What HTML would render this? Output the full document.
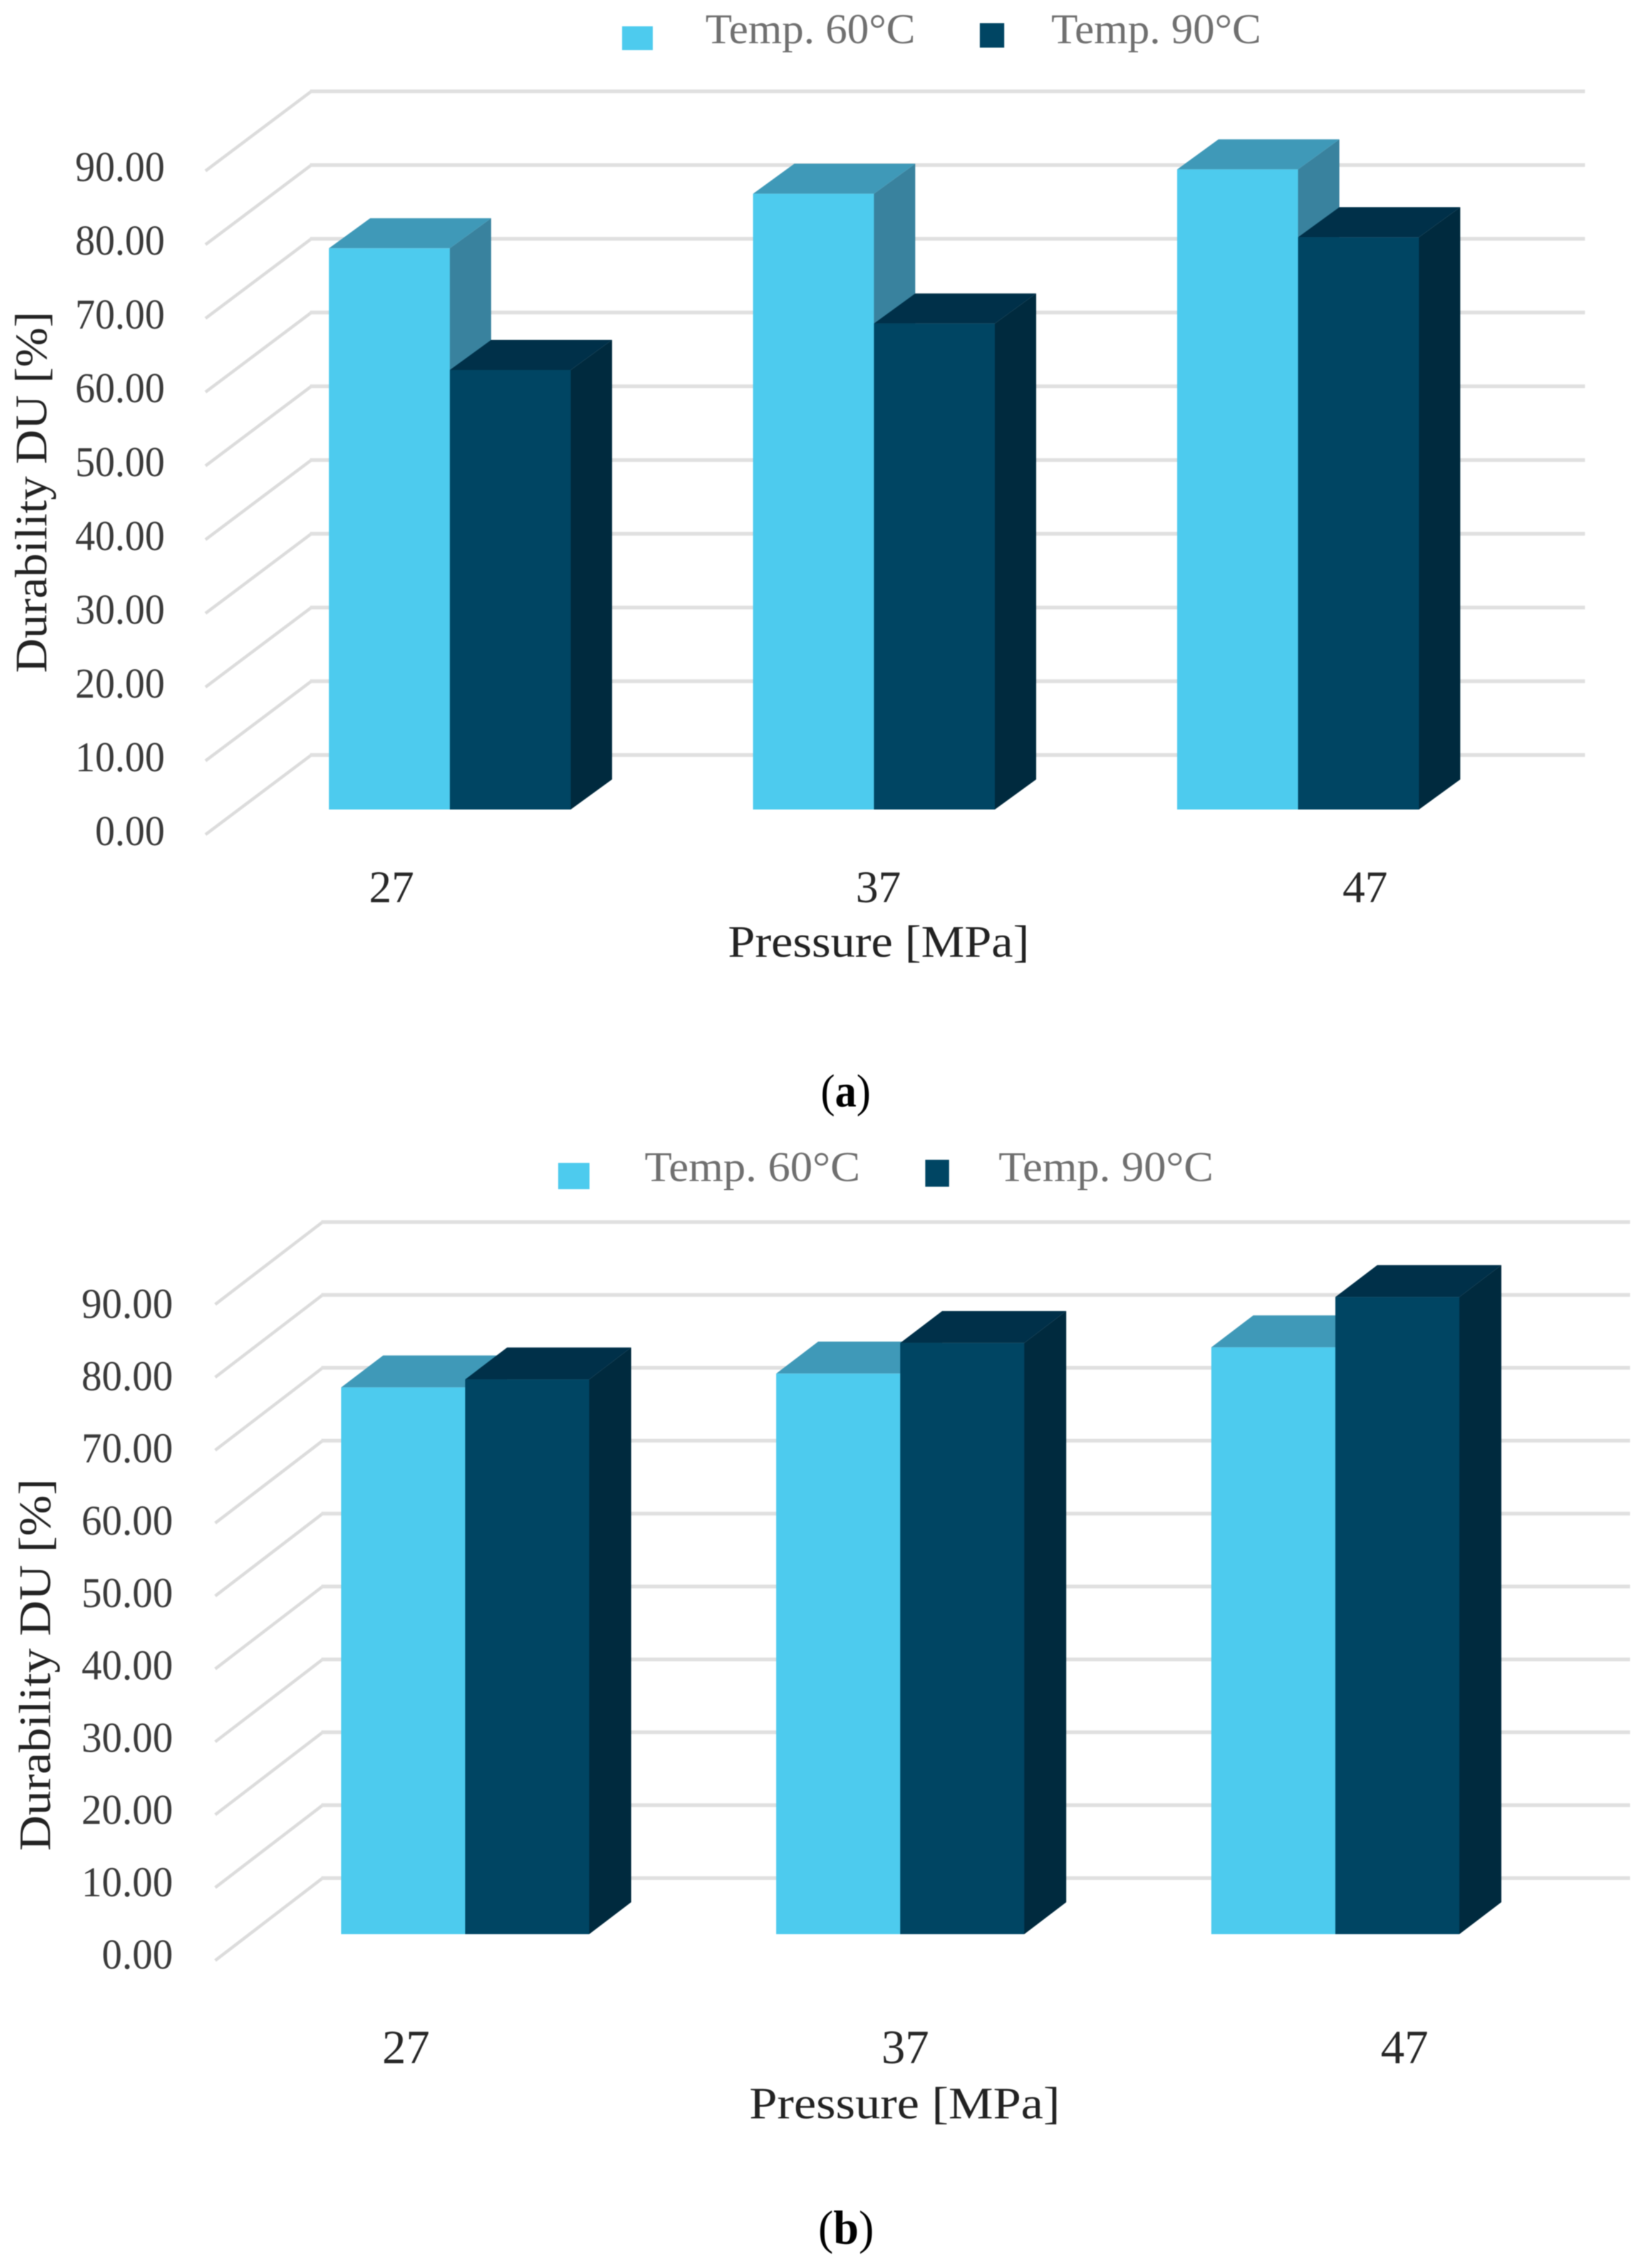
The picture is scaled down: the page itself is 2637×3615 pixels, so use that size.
<!DOCTYPE html>
<html lang="en">
<head>
<meta charset="utf-8">
<title>Durability DU vs Pressure</title>
<style>
  html, body { margin: 0; padding: 0; background: #ffffff; }
  body { width: 2637px; height: 3615px; overflow: hidden; }
  svg { display: block; filter: blur(0.9px); }
  text { font-family: "Liberation Serif", serif; }
  .legend-text { font-size: 68px; fill: #6f6f6f; }
  .axis-title { font-size: 72px; fill: #222222; }
  .cat-label { fill: #262626; text-anchor: middle; }
  .caption { fill: #000000; }
</style>
</head>
<body>
<svg id="figure" xmlns="http://www.w3.org/2000/svg" width="2637" height="3615" viewBox="0 0 2637 3615">
  <rect x="0" y="0" width="2637" height="3615" fill="#ffffff"/>

  <!-- Panel (a) static parts -->
  <g id="panel-a">
    <g id="panel-a-grid"></g>
    <g id="panel-a-bars"></g>
    <g id="panel-a-ticks"></g>
    <g id="panel-a-cats"></g>
    <rect x="993" y="42" width="49" height="38" fill="#4dcbee"/>
    <text class="legend-text" x="1126" y="69" textLength="335" lengthAdjust="spacingAndGlyphs">Temp. 60°C</text>
    <rect x="1564" y="37" width="39" height="39" fill="#004563"/>
    <text class="legend-text" x="1678" y="69" textLength="335" lengthAdjust="spacingAndGlyphs">Temp. 90°C</text>
    <text class="axis-title" transform="translate(74,1074) rotate(-90)" textLength="577" lengthAdjust="spacingAndGlyphs">Durability DU [%]</text>
    <text class="axis-title" x="1162" y="1527" textLength="481" lengthAdjust="spacingAndGlyphs">Pressure [MPa]</text>
    <text class="caption" x="1310" y="1766" font-size="74" textLength="80" lengthAdjust="spacingAndGlyphs">(<tspan font-weight="bold">a</tspan>)</text>
  </g>

  <!-- Panel (b) static parts -->
  <g id="panel-b">
    <g id="panel-b-grid"></g>
    <g id="panel-b-bars"></g>
    <g id="panel-b-ticks"></g>
    <g id="panel-b-cats"></g>
    <rect x="891" y="1856" width="50" height="42" fill="#4dcbee"/>
    <text class="legend-text" x="1029" y="1885" textLength="344" lengthAdjust="spacingAndGlyphs">Temp. 60°C</text>
    <rect x="1477" y="1851" width="38" height="43" fill="#004563"/>
    <text class="legend-text" x="1594" y="1885" textLength="343" lengthAdjust="spacingAndGlyphs">Temp. 90°C</text>
    <text class="axis-title" transform="translate(80,2954) rotate(-90)" textLength="594" lengthAdjust="spacingAndGlyphs">Durability DU [%]</text>
    <text class="axis-title" x="1196" y="3381" textLength="496" lengthAdjust="spacingAndGlyphs">Pressure [MPa]</text>
    <text class="caption" x="1306" y="3581" font-size="76" textLength="89" lengthAdjust="spacingAndGlyphs">(<tspan font-weight="bold">b</tspan>)</text>
  </g>
</svg>

<script>
// Chart data
const pressures = ["27", "37", "47"];
const yTickValues = [0, 10, 20, 30, 40, 50, 60, 70, 80, 90];
const yTickLabels = ["0.00", "10.00", "20.00", "30.00", "40.00", "50.00", "60.00", "70.00", "80.00", "90.00"];
const panelATemp60 = [76.1, 83.5, 86.8];
const panelATemp90 = [59.6, 65.9, 77.6];
const panelBTemp60 = [75.0, 76.9, 80.5];
const panelBTemp90 = [76.1, 81.1, 87.4];

const SVG_NS = "http://www.w3.org/2000/svg";

function make(parent, tag, attrs) {
  const node = document.createElementNS(SVG_NS, tag);
  for (const key in attrs) node.setAttribute(key, attrs[key]);
  parent.appendChild(node);
  return node;
}

function drawBar(group, x, topY, baseY, width, dx, dy, colors, nameStem) {
  let el;
  el = make(group, "polygon", {
    points: [[x + width, topY], [x + width + dx, topY - dy], [x + width + dx, baseY - dy], [x + width, baseY]].join(" "),
    fill: colors.side
  });
  
  

  el = make(group, "polygon", {
    points: [[x, topY], [x + dx, topY - dy], [x + width + dx, topY - dy], [x + width, topY]].join(" "),
    fill: colors.top
  });
  
  

  el = make(group, "rect", {
    x: x, y: topY, width: width, height: baseY - topY,
    fill: colors.front
  });
  
  
}

function drawPanel(id, series60, series90, layout) {
  const gridGroup = document.getElementById(id + "-grid");
  const barsGroup = document.getElementById(id + "-bars");
  const ticksGroup = document.getElementById(id + "-ticks");
  const catsGroup = document.getElementById(id + "-cats");

  // axis functions
  const gridFrontY = v => layout.gridFrontZero - v * layout.gridUnit;
  const barY = v => layout.barBase - v * layout.gridUnit;
  const tickY = v => layout.tickZero - v * layout.tickUnit;
  const bandX = i => layout.bandStart + i * layout.bandStep;
  const catX = i => layout.catStart + i * layout.catStep;

  yTickValues.forEach((v, i) => {
    const fy = gridFrontY(v);
    const by = fy - layout.gridDy;
    let el;
    el = make(gridGroup, "polyline", {
      points: [[layout.gridFrontX, fy], [layout.gridBackX, by]].join(" "),
      fill: "none", stroke: "#dcdcdc", "stroke-width": 5
    });
    
    

    el = make(gridGroup, "line", {
      x1: layout.gridBackX - 2, y1: by, x2: layout.gridRight, y2: by,
      stroke: "#e0e0e0", "stroke-width": 6
    });
    
    

    const label = make(ticksGroup, "text", {
      transform: "translate(" + layout.tickRight + "," + tickY(v) + ") scale(" + layout.tickScale + ",1)",
      "text-anchor": "end",
      "font-size": 68,
      fill: "#3a3a3a"
    });
    label.textContent = yTickLabels[i];
    
    
  });

  const lightColors = { front: "#4dcbee", top: "#3f99b8", side: "#39829e" };
  const darkColors = { front: "#004563", top: "#003049", side: "#002a3e" };

  pressures.forEach((p, i) => {
    const x = bandX(i);
    drawBar(barsGroup, x, barY(series60[i]), layout.barBase, layout.barWidth, layout.depthX, layout.depthY, lightColors, id + "-bar-60-" + p);
    drawBar(barsGroup, x + layout.barWidth, barY(series90[i]), layout.barBase, layout.barWidth, layout.depthX, layout.depthY, darkColors, id + "-bar-90-" + p);

    const label = make(catsGroup, "text", { x: catX(i), y: layout.catBaseline, class: "cat-label", "font-size": layout.catFont });
    label.textContent = p;
    
    
  });
}

drawPanel("panel-a", panelATemp60, panelATemp90, {
  gridFrontZero: 1332, gridUnit: 11.77, gridDy: 127,
  gridFrontX: 328, gridBackX: 497, gridRight: 2530,
  barBase: 1292, barWidth: 193, depthX: 66, depthY: 48,
  bandStart: 525, bandStep: 677,
  tickZero: 1349, tickUnit: 11.78, tickRight: 263, tickScale: 0.935,
  catStart: 625, catStep: 777, catBaseline: 1440, catFont: 72
});

drawPanel("panel-b", panelBTemp60, panelBTemp90, {
  gridFrontZero: 3129, gridUnit: 11.635, gridDy: 131.5,
  gridFrontX: 343.5, gridBackX: 515, gridRight: 2602,
  barBase: 3087, barWidth: 198, depthX: 67, depthY: 51,
  bandStart: 544.5, bandStep: 694.5,
  tickZero: 3142, tickUnit: 11.54, tickRight: 276, tickScale: 0.954,
  catStart: 648, catStep: 797, catBaseline: 3293, catFont: 76
});
</script>
</body>
</html>
